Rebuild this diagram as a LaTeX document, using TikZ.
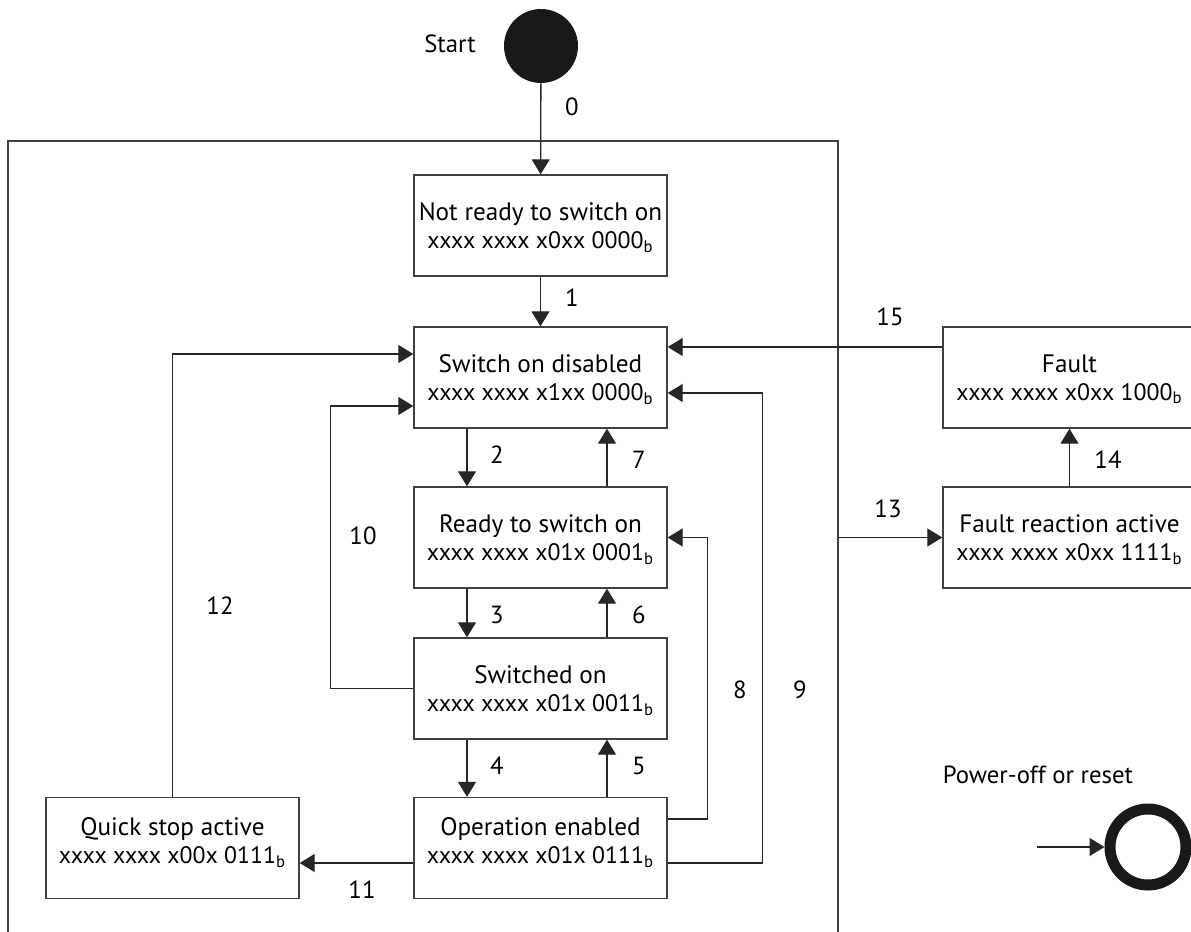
\documentclass[tikz,border=0pt]{standalone}
\usepackage{fontspec}
\setmainfont{PT Sans}
\usetikzlibrary{arrows.meta,positioning}
\newcommand{\stword}[1]{{\fontsize{11.9}{14}\selectfont #1\textsubscript{b}}}

\begin{document}
\begin{tikzpicture}[
    x=0.5pt, y=-0.5pt,
    state/.style={rectangle, draw=black!75, line width=0.7pt, minimum width=126.5pt, minimum height=50.5pt, align=center, inner sep=0pt, text depth=0pt, font=\fontsize{12.6}{14}\selectfont},
    lbl/.style={inner sep=0pt, font=\fontsize{12.4}{14}\selectfont},
    arrow/.style={-{Triangle[length=7.5pt,width=9pt]}, line width=0.65pt, draw=black!85}
]
\useasboundingbox (0,0) rectangle (1191,932);
\fill[white] (0,0) rectangle (1191,932);
\clip (0,0) rectangle (1191,932);

% Frame round the device states
\node[draw=black!75, line width=0.7pt, minimum width=415pt, minimum height=430pt, inner sep=0pt, outer sep=0pt] (frame) at (423,571) {};

% Start
\node[circle, fill=black!90, minimum size=37pt, inner sep=0pt] (start) at (541,46) {};
\node[lbl] (startlbl) at (450,44) {Start};

% States
\node[state] (notready) at (540.5,225.5) {Not ready to switch on\\\stword{xxxx xxxx x0xx 0000}};
\node[state] (swondis) at (540.5,377.5) {Switch on disabled\\\stword{xxxx xxxx x1xx 0000}};
\node[state] (readyon) at (540.5,537.5) {Ready to switch on\\\stword{xxxx xxxx x01x 0001}};
\node[state] (switchedon) at (540.5,688.5) {Switched on\\\stword{xxxx xxxx x01x 0011}};
\node[state, text depth=7pt] (openabled) at (540.5,848) {Operation enabled\\\stword{xxxx xxxx x01x 0111}};
\node[state, text depth=7pt] (quickstop) at (172.5,848) {Quick stop active\\\stword{xxxx xxxx x00x 0111}};
\node[state] (fault) at (1069.5,377.5) {Fault\\\stword{xxxx xxxx x0xx 1000}};
\node[state] (faultreact) at (1069.5,537.5) {Fault reaction active\\\stword{xxxx xxxx x0xx 1111}};

% Power-off
\node[lbl] (pwrlbl) at (1038,775) {Power-off or reset};
\node[circle, draw=black!90, line width=5.5pt, minimum size=38pt, inner sep=0pt] (pwr) at (1148,847) {};
\coordinate (pwrin) at (1037,847);

% Transitions
\draw[arrow] (start) -- (notready);
\draw[arrow] (notready) -- (swondis);
\draw[arrow] ([xshift=-36.75pt]swondis.south) -- ([xshift=-36.75pt]readyon.north);
\draw[arrow] ([xshift=33.25pt]readyon.north) -- ([xshift=33.25pt]swondis.south);
\draw[arrow] ([xshift=-36.75pt]readyon.south) -- ([xshift=-36.75pt]switchedon.north);
\draw[arrow] ([xshift=33.25pt]switchedon.north) -- ([xshift=33.25pt]readyon.south);
\draw[arrow] ([xshift=-36.75pt]switchedon.south) -- ([xshift=-36.75pt]openabled.north);
\draw[arrow] ([xshift=33.25pt]openabled.north) -- ([xshift=33.25pt]switchedon.south);
\draw[arrow] ([yshift=14.5pt]openabled.east) -- ++(20pt,0) |- (readyon.east);
\draw[arrow] ([yshift=-7.5pt]openabled.east) -- ++(47.5pt,0) |- ([yshift=-7.75pt]swondis.east);
\draw[arrow] (switchedon.west) -- ++(-41.5pt,0) |- ([yshift=-14.25pt]swondis.west);
\draw[arrow] ([yshift=-7.5pt]openabled.west) -- ([yshift=-7.5pt]quickstop.east);
\draw[arrow] (quickstop.north) |- ([yshift=11.75pt]swondis.west);
\draw[arrow] (frame.east |- faultreact.west) -- (faultreact.west);
\draw[arrow] (faultreact) -- (fault);
\draw[arrow] ([yshift=15.25pt]fault.west) -- ([yshift=15.25pt]swondis.east);
\draw[arrow] (pwrin) -- (pwr.west);

% Transition numbers
\node[lbl] (t0) at (572,107) {0};
\node[lbl] (t1) at (572,298) {1};
\node[lbl] (t2) at (497,455) {2};
\node[lbl] (t3) at (497,615) {3};
\node[lbl] (t4) at (497,766) {4};
\node[lbl] (t5) at (639,766) {5};
\node[lbl] (t6) at (639,615) {6};
\node[lbl] (t7) at (639,460) {7};
\node[lbl] (t8) at (740,690) {8};
\node[lbl] (t9) at (800,690) {9};
\node[lbl] (t10) at (363,536) {10};
\node[lbl] (t11) at (362,890) {11};
\node[lbl] (t12) at (220,606) {12};
\node[lbl] (t13) at (888,509) {13};
\node[lbl] (t14) at (1108,460) {14};
\node[lbl] (t15) at (890,317) {15};

\end{tikzpicture}
\end{document}
